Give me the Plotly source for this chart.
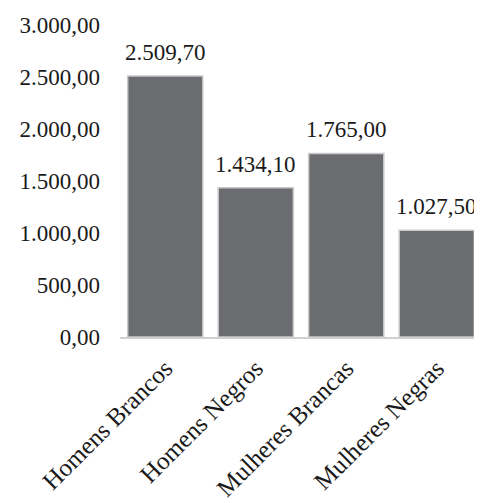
import plotly.graph_objects as go

categories = ["Homens Brancos", "Homens Negros", "Mulheres Brancas", "Mulheres Negras"]
values = [2509.70, 1434.10, 1765.00, 1027.50]
tick_values = [0, 500, 1000, 1500, 2000, 2500, 3000]


def fmt_br(v):
    s = f"{v:,.2f}"
    return s.replace(",", "X").replace(".", ",").replace("X", ".")


tick_text = [fmt_br(v) for v in tick_values]
FONT = "Liberation Serif, Times New Roman, serif"

fig = go.Figure()
fig.add_trace(go.Bar(
    x=categories,
    y=values,
    marker=dict(color="#6b6c70", line=dict(color="#c9c9c9", width=1.5)),
    hoverinfo="skip",
))

for c, v in zip(categories, values):
    fig.add_annotation(
        x=c, y=v, text=fmt_br(v), showarrow=False,
        yanchor="bottom", yshift=9,
        font=dict(family=FONT, size=23, color="#1a1a1a"),
    )

fig.update_layout(
    width=474, height=495,
    margin=dict(l=112, r=0, t=17, b=166, autoexpand=False),
    paper_bgcolor="white", plot_bgcolor="white",
    showlegend=False,
    bargap=0.17,
    font=dict(family=FONT, size=23, color="#1a1a1a"),
)
fig.update_xaxes(
    showgrid=False, showline=True, linecolor="#d0d0d0", linewidth=1.5,
    tickangle=-45, ticks="", automargin=False, ticklabelstandoff=5,
    tickfont=dict(family=FONT, size=25, color="#1a1a1a"),
)
fig.update_yaxes(
    range=[0, 3000], showgrid=False, showline=False, zeroline=False,
    tickvals=tick_values, ticktext=tick_text, ticks="",
    ticklabelstandoff=19, automargin=False,
    tickfont=dict(family=FONT, size=23, color="#1a1a1a"),
)

fig.write_html("out.html")
